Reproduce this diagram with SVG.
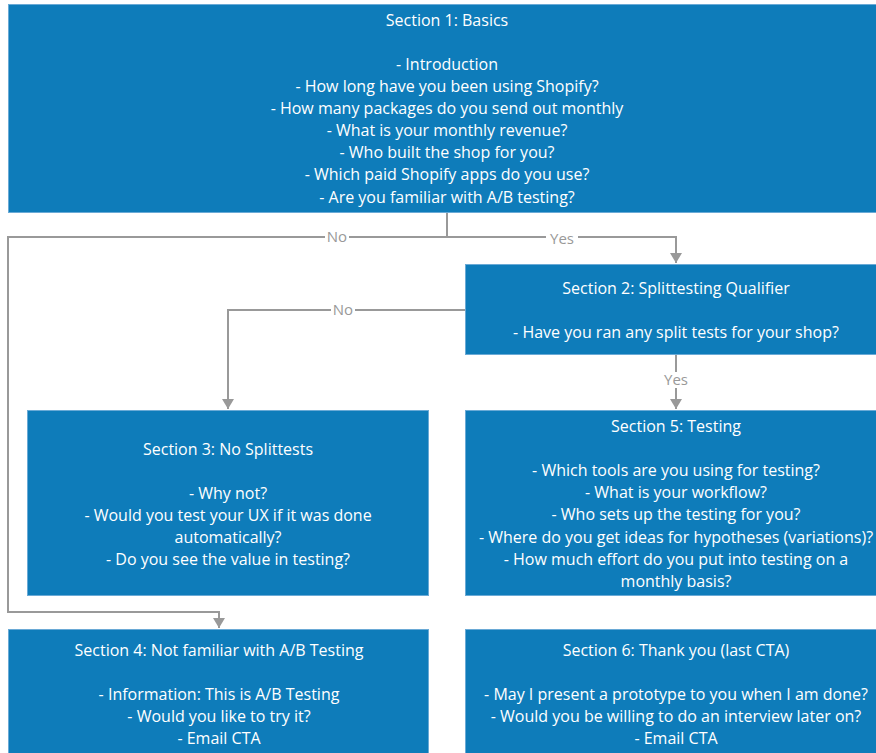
<svg xmlns="http://www.w3.org/2000/svg" width="876" height="753" viewBox="0 0 876 753">
<defs>
<marker id="ah" viewBox="0 0 10 12" refX="10" refY="6" markerWidth="10" markerHeight="12" markerUnits="userSpaceOnUse" orient="auto">
<path d="M0,0 L10,6 L0,12 Z" fill="#999"/>
</marker>
<style>
.box{fill:#0e7cba;stroke:#6aaad6;stroke-width:1}
.t{font-family:"Open Sans","DejaVu Sans",sans-serif;font-size:16px;fill:#fff;text-anchor:middle}
.c{fill:none;stroke:#999;stroke-width:2}
.lbl{font-family:"Open Sans","DejaVu Sans",sans-serif;font-size:15px;fill:#999;text-anchor:middle}
.lb{fill:#fff}
</style>
</defs>
<rect width="876" height="753" fill="#fff"/>
<g id="connectors">
<path class="c" d="M447,213 V237 H8 V612 H219 V628" marker-end="url(#ah)"/>
<path class="c" d="M447,237 H676 V263" marker-end="url(#ah)"/>
<path class="c" d="M465,310 H228 V409" marker-end="url(#ah)"/>
<path class="c" d="M676,355 V409" marker-end="url(#ah)"/>
<rect class="lb" x="325" y="229" width="24" height="16"/>
<text class="lbl" x="337" y="242">No</text>
<rect class="lb" x="546" y="231" width="32" height="16"/>
<text class="lbl" x="562" y="244">Yes</text>
<rect class="lb" x="331" y="302" width="24" height="16"/>
<text class="lbl" x="343" y="315">No</text>
<rect class="lb" x="660" y="372" width="32" height="16"/>
<text class="lbl" x="676" y="385">Yes</text>
</g>
<g id="section1">
<rect class="box" x="8.5" y="4.5" width="880" height="208"/>
<text class="t" x="447" y="26">Section 1: Basics</text>
<text class="t" x="447" y="70">- Introduction</text>
<text class="t" x="447" y="92">- How long have you been using Shopify?</text>
<text class="t" x="447" y="114">- How many packages do you send out monthly</text>
<text class="t" x="447" y="136">- What is your monthly revenue?</text>
<text class="t" x="447" y="158">- Who built the shop for you?</text>
<text class="t" x="447" y="180">- Which paid Shopify apps do you use?</text>
<text class="t" x="447" y="203">- Are you familiar with A/B testing?</text>
</g>
<g id="section2">
<rect class="box" x="465.5" y="264.5" width="422" height="90"/>
<text class="t" x="676" y="294">Section 2: Splittesting Qualifier</text>
<text class="t" x="676" y="338">- Have you ran any split tests for your shop?</text>
</g>
<g id="section3">
<rect class="box" x="27.5" y="410.5" width="401" height="185"/>
<text class="t" x="228" y="455">Section 3: No Splittests</text>
<text class="t" x="228" y="499">- Why not?</text>
<text class="t" x="228" y="521">- Would you test your UX if it was done</text>
<text class="t" x="228" y="543">automatically?</text>
<text class="t" x="228" y="565">- Do you see the value in testing?</text>
</g>
<g id="section5">
<rect class="box" x="465.5" y="410.5" width="422" height="185"/>
<text class="t" x="676" y="432">Section 5: Testing</text>
<text class="t" x="676" y="476">- Which tools are you using for testing?</text>
<text class="t" x="676" y="498">- What is your workflow?</text>
<text class="t" x="676" y="520">- Who sets up the testing for you?</text>
<text class="t" x="676" y="543">- Where do you get ideas for hypotheses (variations)?</text>
<text class="t" x="676" y="565">- How much effort do you put into testing on a</text>
<text class="t" x="676" y="587">monthly basis?</text>
</g>
<g id="section4">
<rect class="box" x="8.5" y="629.5" width="420" height="130"/>
<text class="t" x="219" y="656">Section 4: Not familiar with A/B Testing</text>
<text class="t" x="219" y="700">- Information: This is A/B Testing</text>
<text class="t" x="219" y="722">- Would you like to try it?</text>
<text class="t" x="219" y="744">- Email CTA</text>
</g>
<g id="section6">
<rect class="box" x="465.5" y="629.5" width="422" height="130"/>
<text class="t" x="676" y="656">Section 6: Thank you (last CTA)</text>
<text class="t" x="676" y="700">- May I present a prototype to you when I am done?</text>
<text class="t" x="676" y="722">- Would you be willing to do an interview later on?</text>
<text class="t" x="676" y="744">- Email CTA</text>
</g>
</svg>
